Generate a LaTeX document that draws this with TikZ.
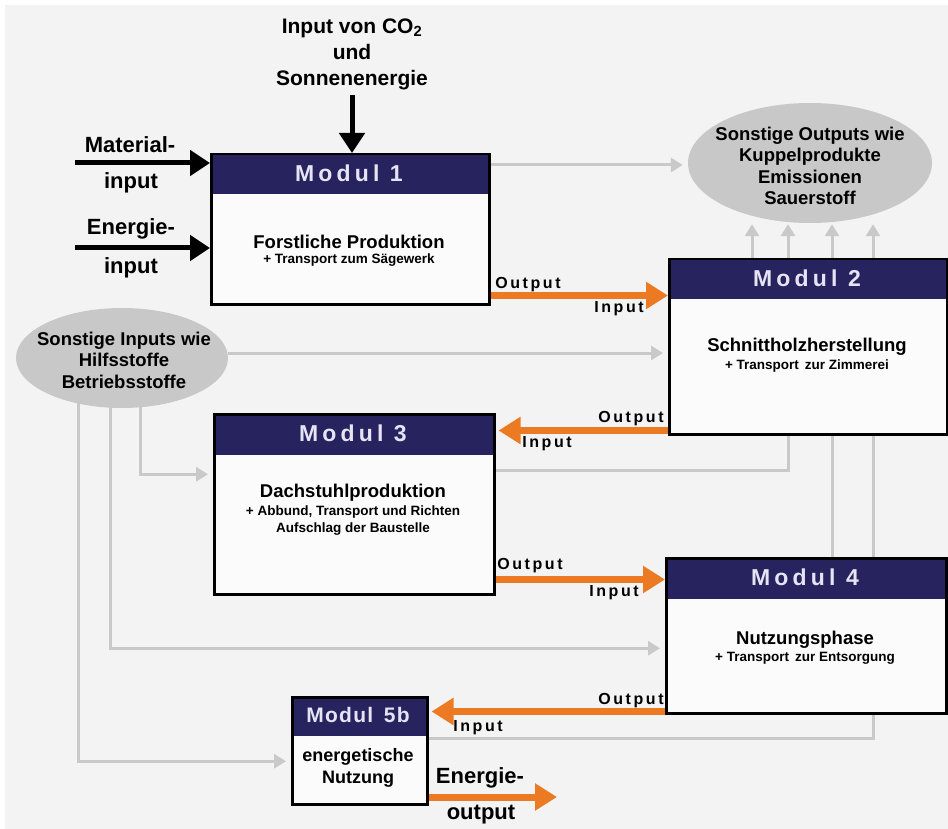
\documentclass[tikz,border=0pt]{standalone}
\usepackage{fontspec}
\setmainfont{Liberation Sans}
\usetikzlibrary{arrows.meta,shapes.geometric,calc}
\definecolor{bgc}{HTML}{F3F3F3}
\definecolor{boxfill}{HTML}{FBFBFB}
\definecolor{navy}{HTML}{27235E}
\definecolor{hdtext}{HTML}{E6E4F4}
\definecolor{flow}{HTML}{EC7A23}
\definecolor{aux}{HTML}{C9C9C9}
\definecolor{blobfill}{HTML}{C8C8C8}
\pgfdeclarelayer{canvas}
\pgfdeclarelayer{back}
\pgfsetlayers{canvas,back,main}
\begin{document}
\begin{tikzpicture}[x=1pt,y=-1pt,
  box/.style={draw=black,line width=2.5pt,fill=boxfill,inner sep=0pt,anchor=north west,
    path picture={\fill[navy] (path picture bounding box.north west) rectangle ([yshift=-#1]path picture bounding box.north east);}},
  htext/.style={text=hdtext,inner sep=0pt,font=\bfseries\fontsize{23}{23}\selectfont\addfontfeature{LetterSpace=18}},
  body/.style={inner sep=0pt,font=\bfseries\fontsize{18.5}{22}\selectfont,align=center},
  subtext/.style={inner sep=0pt,font=\bfseries\fontsize{13.5}{17}\selectfont,align=center},
  lbl/.style={inner sep=0pt,font=\bfseries\fontsize{22}{26}\selectfont,align=center},
  flowlbl/.style={inner sep=0pt,anchor=base,font=\bfseries\fontsize{16}{16}\selectfont\addfontfeature{LetterSpace=16}},
  blob/.style={ellipse,fill=blobfill,inner sep=0pt},
  blobtext/.style={inner sep=0pt,align=center,font=\bfseries\fontsize{18.5}{21.5}\selectfont},
  inarrow/.style={line width=5pt,-{Triangle[length=20pt,width=25pt]}},
  flowarrow/.style={draw=flow,line width=7pt,-{Triangle[length=22pt,width=26pt]}},
  auxarrow/.style={draw=aux,line width=3pt,-{Triangle[length=12pt,width=14pt]},shorten >=5pt}
]
% canvas
\useasboundingbox (0,0) rectangle (948,829);
\begin{pgfonlayer}{canvas}
\fill[white] (0,0) rectangle (948,829);
\fill[bgc] (5,5) rectangle (948,829);
\end{pgfonlayer}

% module boxes
\node[box=40pt,minimum width=278pt,minimum height=150pt] (m1) at (210,153) {};
\node[box=40pt,minimum width=278pt,minimum height=175pt] (m2) at (668,258) {};
\node[box=41pt,minimum width=280pt,minimum height=180pt] (m3) at (213,413) {};
\node[box=41pt,minimum width=280pt,minimum height=155pt] (m4) at (665,557) {};
\node[box=39pt,minimum width=135pt,minimum height=107pt] (m5) at (291,696) {};

% headers
\node[htext] (m1h) at (349,173) {Modul 1};
\node[htext] (m2h) at (807,278) {Modul 2};
\node[htext] (m3h) at (353,433) {Modul 3};
\node[htext] (m4h) at (805,577) {Modul 4};
\node[htext,font=\bfseries\fontsize{21}{21}\selectfont\addfontfeature{LetterSpace=6}] (m5h) at (358,715) {Modul\, 5b};

% module contents
\node[body] (m1b) at (349,242) {Forstliche Produktion};
\node[subtext] (m1s) at (349,260) {+ Transport zum Sägewerk};
\node[body] (m2b) at (807,347) {Schnittholzherstellung};
\node[subtext] (m2s) at (807,366) {+ Transport\, zur Zimmerei};
\node[body] (m3b) at (353,493) {Dachstuhlproduktion};
\node[subtext] (m3s) at (353,521) {+ Abbund, Transport und Richten\\Aufschlag der Baustelle};
\node[body] (m4b) at (805,640) {Nutzungsphase};
\node[subtext] (m4s) at (805,658) {+ Transport\, zur Entsorgung};
\node[body,font=\bfseries\fontsize{18}{22}\selectfont] (m5b) at (358,768) {energetische\\Nutzung};

% side ellipses
\node[blob,minimum width=244pt,minimum height=120pt] (out) at (810,163) {};
\node[blobtext] (outt) at (810,166) {Sonstige Outputs wie\\Kuppelprodukte\\Emissionen\\Sauerstoff};
\node[blob,minimum width=212pt,minimum height=100pt] (inp) at (122,358) {};
\node[blobtext] (inpt) at (124,360) {Sonstige Inputs wie\\Hilfsstoffe\\Betriebsstoffe};

% external inputs of module 1
\coordinate (matsrc) at (75,163);
\coordinate (ensrc) at (75,248);
\coordinate (co2src) at (352,95);
\draw[inarrow] (matsrc) -- (matsrc -| m1.west);
\draw[inarrow] (ensrc) -- (ensrc -| m1.west);
\draw[inarrow] (co2src) -- (co2src |- m1.north);
\node[lbl] (matl1) at (130,145) {Material-};
\node[lbl] (matl2) at (131,183) {input};
\node[lbl] (enl1) at (131,229) {Energie-};
\node[lbl] (enl2) at (131,268) {input};
\node[lbl,font=\bfseries\fontsize{21}{26}\selectfont] (co2l) at (352,54) {Input von CO\textsubscript{2}\\und\\Sonnenenergie};

% main product flow
\draw[flowarrow] ([yshift=10pt]m1.south east) -- ([yshift=10pt]m1.south east -| m2.west);
\draw[flowarrow,shorten >=3pt] ([yshift=5pt]m2.south west) -- ([yshift=5pt]m2.south west -| m3.east);
\draw[flowarrow] ([yshift=16pt]m3.south east) -- ([yshift=16pt]m3.south east -| m4.west);
\draw[flowarrow,shorten >=3pt] ([yshift=3pt]m4.south west) -- ([yshift=3pt]m4.south west -| m5.east);
\coordinate (eout) at (557,797);
\draw[flowarrow] (m5.east |- eout) -- (eout);

\node[flowlbl] (o12) at (528,288) {Output};
\node[flowlbl] (i12) at (619,312) {Input};
\node[flowlbl] (o23) at (631,422) {Output};
\node[flowlbl] (i23) at (547,447) {Input};
\node[flowlbl] (o34) at (530,569) {Output};
\node[flowlbl] (i34) at (614,596) {Input};
\node[flowlbl] (o45) at (631,704) {Output};
\node[flowlbl] (i45) at (478,731) {Input};
\node[lbl] (eol1) at (480,778) {Energie-};
\node[lbl] (eol2) at (481,815) {output};

% auxiliary flows, behind boxes and ellipses
\coordinate (c1) at (752,0);
\coordinate (c2) at (788,0);
\coordinate (c3) at (832,0);
\coordinate (c4) at (873,0);
\coordinate (d1) at (140,0);
\coordinate (d2) at (110,0);
\coordinate (d3) at (78,0);
\begin{pgfonlayer}{back}
\draw[auxarrow] ([yshift=-12pt]m1.north east) -- ([yshift=-12pt]m1.north east -| out.west);
\draw[auxarrow,shorten >=1pt] (m2.north -| c1) -- (out.south -| c1);
\draw[auxarrow,shorten >=1pt] ([yshift=-57pt]m3.north east) -| (out.south -| c2);
\draw[auxarrow,shorten >=1pt] (m4.north -| c3) -- (out.south -| c3);
\draw[auxarrow,shorten >=1pt] ([yshift=-42pt]m5.north east) -| (out.south -| c4);
\draw[auxarrow] ([yshift=5pt]inp.east) -- ([yshift=5pt]inp.east -| m2.west);
\draw[auxarrow] (inp.center -| d1) |- ([yshift=30pt]m3.west);
\draw[auxarrow] (inp.center -| d2) |- ([yshift=-12.5pt]m4.west);
\draw[auxarrow] (inp.center -| d3) |- ([yshift=-10.5pt]m5.west);
\end{pgfonlayer}
\end{tikzpicture}
\end{document}
